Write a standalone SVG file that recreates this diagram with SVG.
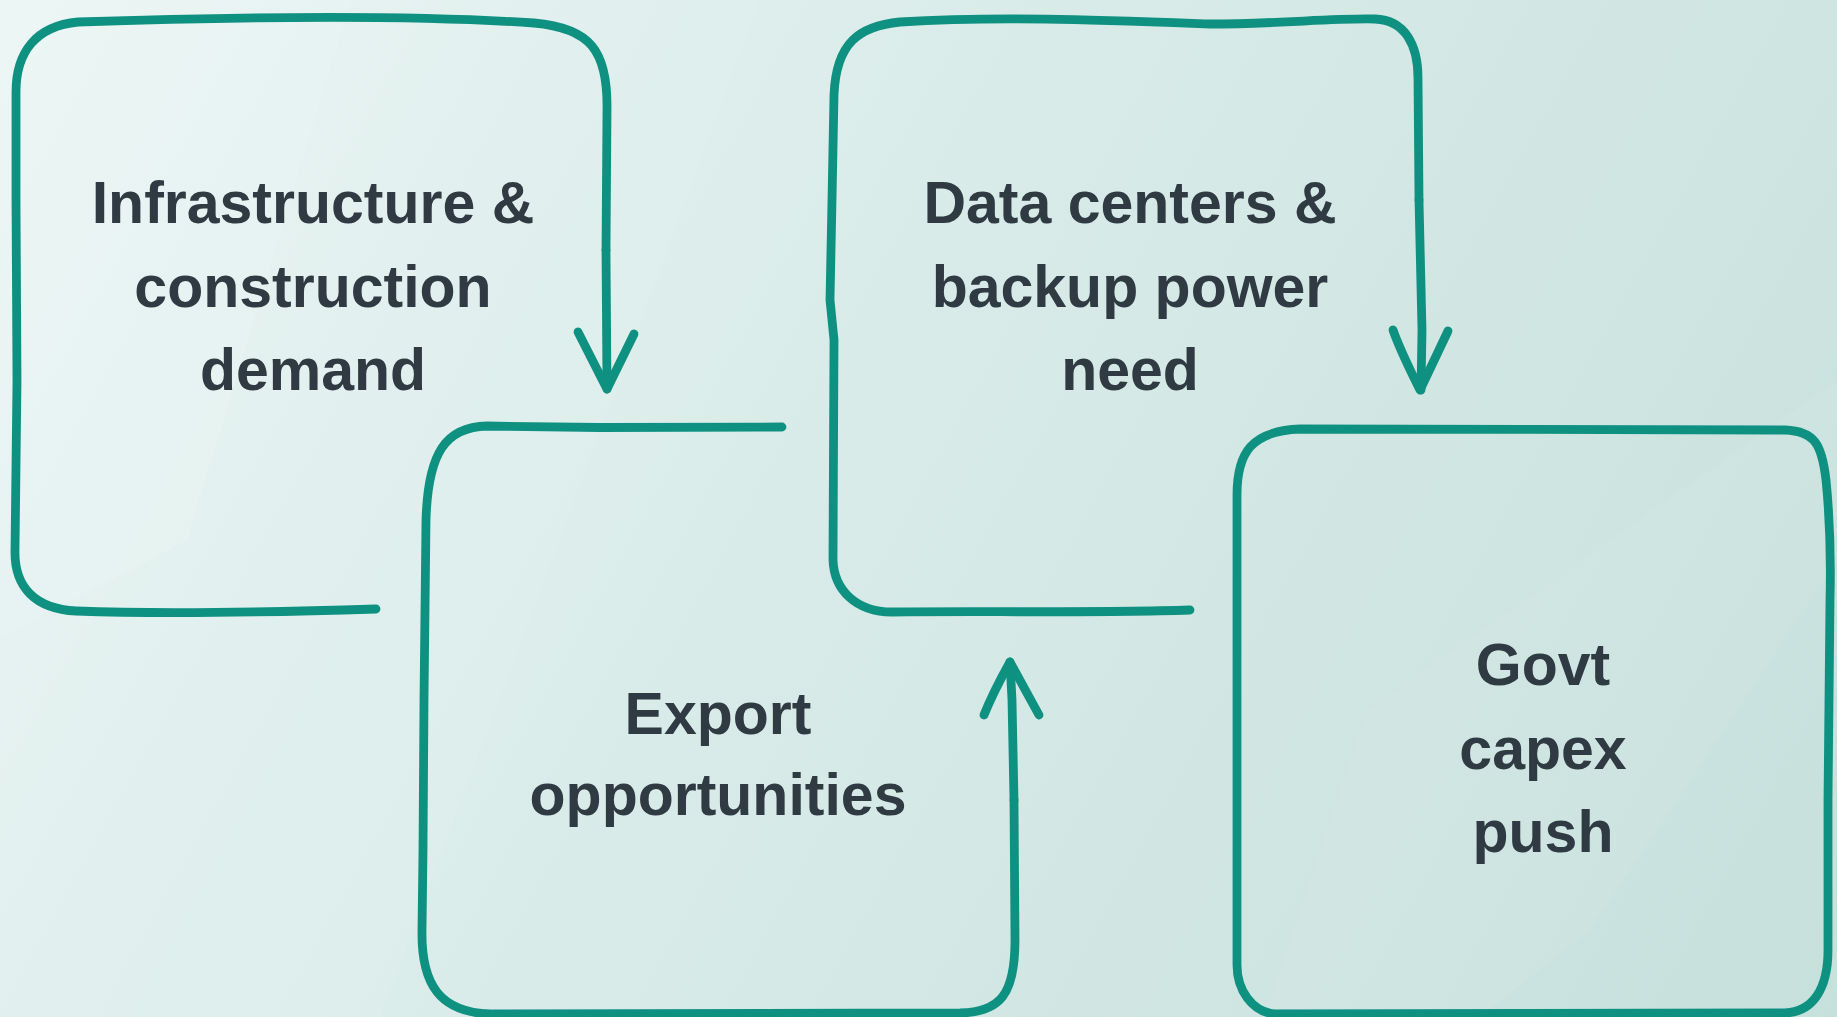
<svg xmlns="http://www.w3.org/2000/svg" width="1837" height="1017" viewBox="0 0 1837 1017">
  <defs>
    <linearGradient id="bg" x1="0" y1="0" x2="1837" y2="1017" gradientUnits="userSpaceOnUse">
      <stop offset="0" stop-color="#e9f5f4"/>
      <stop offset="0.5" stop-color="#d7eae7"/>
      <stop offset="1" stop-color="#c6e0dc"/>
    </linearGradient>
    <style>
      .edge { fill: none; stroke: #0f9181; stroke-width: 8.8; stroke-linecap: round; stroke-linejoin: round; }
      .lbl { font-family: "Liberation Sans", Arial, Helvetica, sans-serif; font-weight: bold; font-size: 59px; fill: #2f3a42; text-anchor: middle; }
      .glass { fill: #ffffff; }
    </style>
  </defs>

  <rect width="1837" height="1017" fill="url(#bg)"/>
  <g id="background-shapes">
    <polygon class="glass" opacity="0.14" points="0,0 351,0 187,541 0,638"/>
    <polygon class="glass" opacity="0.06" points="351,0 760,0 560,540 380,1017 0,1017 0,638 187,541"/>
    <polygon class="glass" opacity="0.05" points="1837,380 1837,560 1590,930 1480,1017 1264,1017 1368,711"/>
  </g>

  <g id="node-infrastructure">
    <path class="edge" d="M 376 609 C 280 612, 160 614, 76 611 C 36 609, 14 588, 15 550 L 17 380 L 16 200 L 16 92 C 16 52, 36 26, 78 22 C 200 18, 400 14, 534 23 C 590 28, 608 50, 607 110 L 606 250"/>
    <text class="lbl" x="313" y="223">Infrastructure &amp;</text>
    <text class="lbl" x="313" y="306.5">construction</text>
    <text class="lbl" x="313" y="390">demand</text>
  </g>

  <g id="node-export">
    <path class="edge" d="M 782 427 L 600 427.5 L 487 426 C 446 427, 428 452, 426 520 L 424 700 L 423 850 L 422 930 C 421 985, 440 1012, 490 1014 L 960 1013 C 1000 1012, 1015 995, 1015 940 L 1014 800"/>
    <text class="lbl" x="718" y="734">Export</text>
    <text class="lbl" x="718" y="815">opportunities</text>
  </g>

  <g id="node-datacenters">
    <path class="edge" d="M 1190 610 C 1100 613, 980 611, 892 612 C 856 612, 834 590, 833 560 L 834 340 L 830 300 L 832 200 L 834 95 C 836 42, 860 26, 900 22 C 1000 16, 1100 20, 1209 24 C 1280 24, 1330 18, 1375 19 C 1405 20, 1418 45, 1418 78 L 1419 200"/>
    <text class="lbl" x="1130" y="223">Data centers &amp;</text>
    <text class="lbl" x="1130" y="306.5">backup power</text>
    <text class="lbl" x="1130" y="390">need</text>
  </g>

  <g id="node-govt">
    <path class="edge" d="M 1300 429 L 1785 430 C 1815 431, 1822 445, 1826 480 C 1830 520, 1831 560, 1830 600 L 1828 800 L 1828 950 C 1828 990, 1812 1012, 1785 1013 L 1275 1014 C 1252 1012, 1237 990, 1237 965 L 1237 495 C 1237 452, 1252 431, 1300 429 Z"/>
    <text class="lbl" x="1543" y="685">Govt</text>
    <text class="lbl" x="1543" y="768.5">capex</text>
    <text class="lbl" x="1543" y="852">push</text>
  </g>

  <g id="connectors">
    <path class="edge" d="M 606 250 L 607 389"/>
    <path class="edge" d="M 578 332 L 607 389 L 634 334"/>
    <path class="edge" d="M 1014 800 L 1012 700 L 1010 662"/>
    <path class="edge" d="M 984 715 C 992 695, 1000 680, 1010 662 L 1039 715"/>
    <path class="edge" d="M 1419 200 L 1422 330 L 1421 390"/>
    <path class="edge" d="M 1393 330 C 1400 350, 1410 370, 1420 390 L 1448 331"/>
  </g>
</svg>
